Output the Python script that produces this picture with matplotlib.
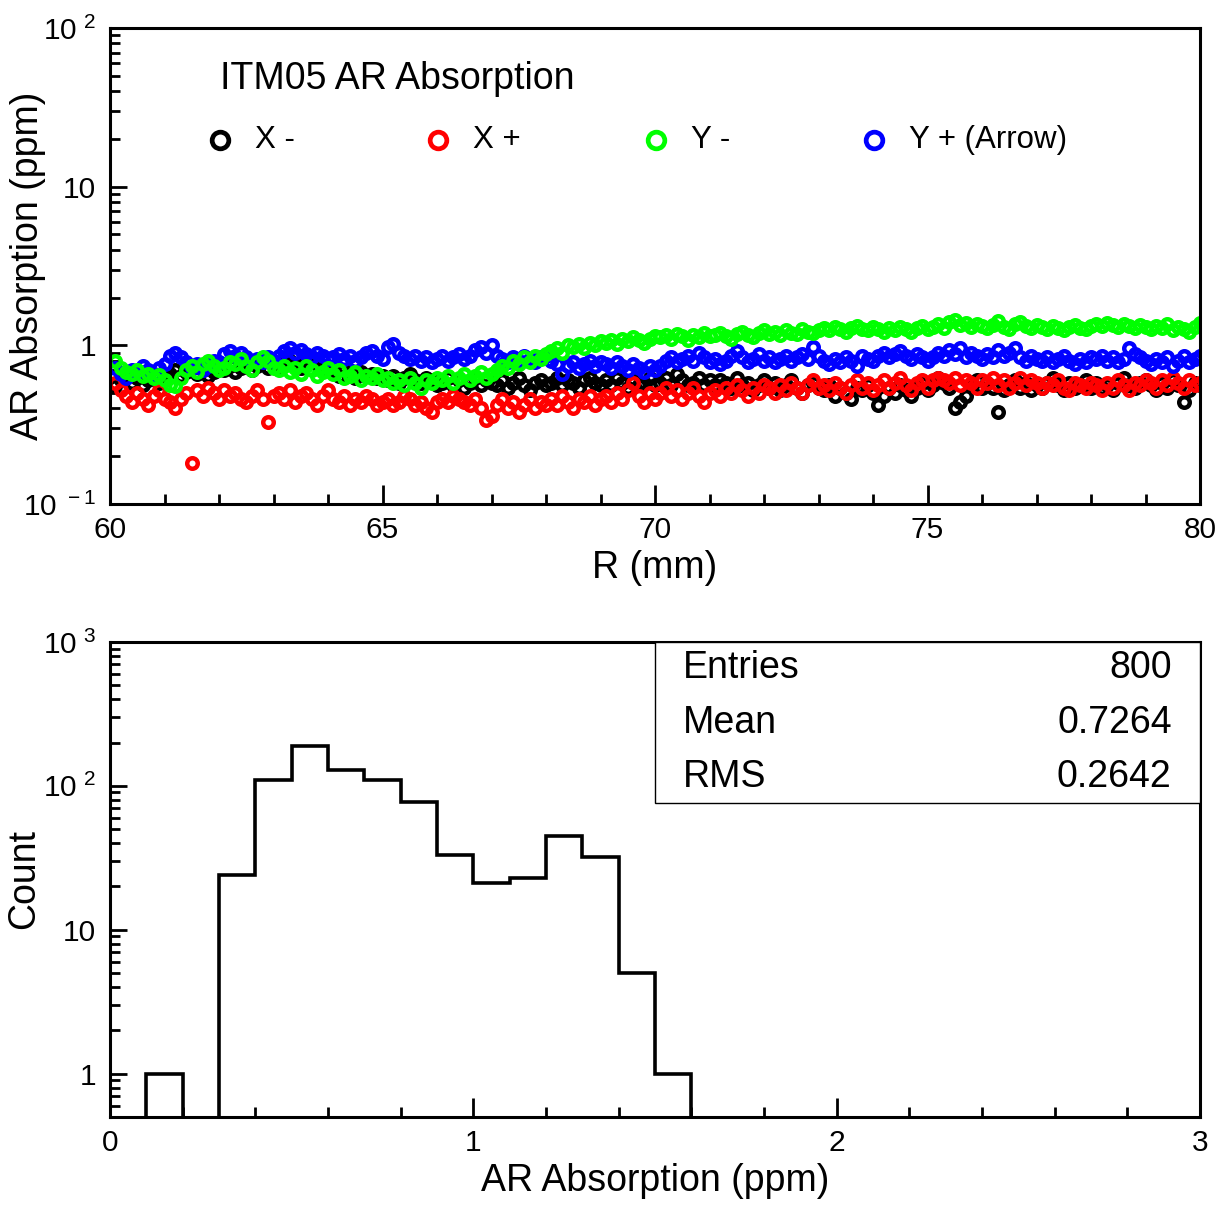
import numpy as np
import matplotlib
matplotlib.use("Agg")
import matplotlib.pyplot as plt
import matplotlib.ticker as mticker
from matplotlib.lines import Line2D
from matplotlib.patches import Rectangle

plt.rcParams.update({
    "font.family": ["Liberation Sans", "DejaVu Sans"],
    "mathtext.fontset": "custom",
    "mathtext.rm": "Liberation Sans",
    "axes.linewidth": 2.2,
    "xtick.direction": "in",
    "ytick.direction": "in",
})

# ── Data ────────────────────────────────────────────────────────────────
# radial positions (mm), one measurement every 0.1 mm
r_mm = np.round(np.arange(60.1, 80.05, 0.1), 1)

x_minus = [
    0.55, 0.60, 0.64, 0.58, 0.62, 0.56, 0.60, 0.64, 0.58, 0.62,
    0.66, 0.70, 0.64, 0.68, 0.72, 0.66, 0.70, 0.64, 0.68, 0.72,
    0.70, 0.74, 0.68, 0.72, 0.76, 0.70, 0.74, 0.78, 0.72, 0.76,
    0.74, 0.78, 0.80, 0.76, 0.72, 0.78, 0.82, 0.76, 0.74, 0.70,
    0.68, 0.64, 0.70, 0.66, 0.62, 0.68, 0.64, 0.66, 0.62, 0.64,
    0.60, 0.64, 0.58, 0.62, 0.66, 0.60, 0.58, 0.62, 0.60, 0.56,
    0.58, 0.62, 0.56, 0.60, 0.54, 0.58, 0.62, 0.56, 0.60, 0.58,
    0.56, 0.60, 0.54, 0.58, 0.62, 0.56, 0.52, 0.58, 0.60, 0.56,
    0.58, 0.62, 0.56, 0.60, 0.58, 0.54, 0.60, 0.62, 0.58, 0.56,
    0.60, 0.56, 0.62, 0.58, 0.54, 0.60, 0.56, 0.58, 0.62, 0.56,
    0.58, 0.62, 0.56, 0.66, 0.60, 0.56, 0.58, 0.62, 0.56, 0.60,
    0.56, 0.60, 0.58, 0.54, 0.62, 0.56, 0.58, 0.52, 0.56, 0.60,
    0.54, 0.58, 0.52, 0.56, 0.60, 0.54, 0.50, 0.56, 0.58, 0.54,
    0.52, 0.56, 0.48, 0.54, 0.50, 0.46, 0.54, 0.52, 0.56, 0.50,
    0.42, 0.48, 0.54, 0.50, 0.56, 0.52, 0.48, 0.54, 0.58, 0.52,
    0.56, 0.62, 0.58, 0.54, 0.40, 0.44, 0.48, 0.56, 0.60, 0.54,
    0.58, 0.54, 0.38, 0.52, 0.56, 0.60, 0.54, 0.58, 0.52, 0.56,
    0.54, 0.58, 0.62, 0.56, 0.52, 0.58, 0.54, 0.56, 0.60, 0.54,
    0.58, 0.54, 0.56, 0.52, 0.58, 0.62, 0.56, 0.54, 0.58, 0.60,
    0.56, 0.52, 0.58, 0.54, 0.60, 0.56, 0.44, 0.52, 0.58, 0.56,
]

x_plus = [
    0.58, 0.52, 0.48, 0.44, 0.50, 0.46, 0.42, 0.48, 0.52, 0.46,
    0.44, 0.40, 0.46, 0.50, 0.18, 0.52, 0.48, 0.54, 0.50, 0.46,
    0.52, 0.48, 0.50, 0.46, 0.44, 0.48, 0.52, 0.46, 0.33, 0.48,
    0.50, 0.46, 0.52, 0.44, 0.48, 0.50, 0.46, 0.42, 0.48, 0.52,
    0.46, 0.44, 0.48, 0.42, 0.46, 0.44, 0.48, 0.46, 0.42, 0.44,
    0.46, 0.42, 0.44, 0.48, 0.46, 0.42, 0.44, 0.40, 0.38, 0.44,
    0.46, 0.44, 0.48, 0.46, 0.44, 0.42, 0.46, 0.40, 0.34, 0.36,
    0.42, 0.46, 0.40, 0.44, 0.38, 0.42, 0.46, 0.40, 0.44, 0.42,
    0.46, 0.42, 0.48, 0.44, 0.40, 0.46, 0.44, 0.48, 0.42, 0.46,
    0.48, 0.44, 0.50, 0.46, 0.52, 0.58, 0.48, 0.44, 0.50, 0.46,
    0.50, 0.54, 0.48, 0.52, 0.46, 0.50, 0.54, 0.48, 0.44, 0.50,
    0.52, 0.48, 0.54, 0.50, 0.56, 0.52, 0.48, 0.54, 0.50, 0.56,
    0.54, 0.50, 0.56, 0.52, 0.58, 0.54, 0.50, 0.56, 0.60, 0.54,
    0.56, 0.52, 0.58, 0.54, 0.50, 0.56, 0.60, 0.54, 0.58, 0.52,
    0.56, 0.60, 0.54, 0.58, 0.62, 0.56, 0.52, 0.58, 0.60, 0.54,
    0.60, 0.62, 0.60, 0.58, 0.62, 0.56, 0.60, 0.58, 0.54, 0.60,
    0.58, 0.62, 0.56, 0.60, 0.54, 0.58, 0.62, 0.56, 0.60, 0.58,
    0.54, 0.58, 0.56, 0.60, 0.54, 0.52, 0.58, 0.56, 0.54, 0.58,
    0.56, 0.52, 0.58, 0.54, 0.60, 0.56, 0.52, 0.58, 0.56, 0.60,
    0.58, 0.54, 0.60, 0.56, 0.62, 0.58, 0.54, 0.60, 0.56, 0.58,
]

y_minus = [
    0.80, 0.72, 0.68, 0.66, 0.70, 0.64, 0.66, 0.62, 0.65, 0.60,
    0.56, 0.55, 0.62, 0.70, 0.74, 0.68, 0.76, 0.80, 0.74, 0.70,
    0.72, 0.78, 0.76, 0.82, 0.74, 0.70, 0.78, 0.84, 0.80, 0.72,
    0.70, 0.74, 0.68, 0.72, 0.66, 0.74, 0.70, 0.64, 0.68, 0.72,
    0.66, 0.70, 0.62, 0.64, 0.68, 0.60, 0.64, 0.62, 0.66, 0.60,
    0.62, 0.58, 0.60, 0.56, 0.62, 0.58, 0.54, 0.60, 0.58, 0.62,
    0.60, 0.64, 0.58, 0.62, 0.66, 0.60, 0.64, 0.68, 0.62, 0.66,
    0.70, 0.74, 0.72, 0.80, 0.76, 0.84, 0.78, 0.86, 0.82, 0.88,
    0.92, 0.96, 0.90, 1.00, 0.98, 1.02, 0.96, 1.04, 1.00, 1.06,
    1.04, 1.08, 1.02, 1.10, 1.06, 1.12, 1.08, 1.04, 1.10, 1.14,
    1.12, 1.16, 1.10, 1.18, 1.14, 1.08, 1.16, 1.12, 1.20, 1.14,
    1.16, 1.20, 1.14, 1.10, 1.18, 1.22, 1.16, 1.12, 1.20, 1.24,
    1.18, 1.22, 1.16, 1.24, 1.20, 1.18, 1.26, 1.22, 1.20, 1.24,
    1.28, 1.24, 1.30, 1.26, 1.22, 1.28, 1.32, 1.26, 1.24, 1.30,
    1.26, 1.22, 1.28, 1.24, 1.30, 1.26, 1.22, 1.28, 1.32, 1.26,
    1.30, 1.36, 1.28, 1.40, 1.44, 1.34, 1.38, 1.30, 1.36, 1.32,
    1.28, 1.34, 1.42, 1.30, 1.26, 1.36, 1.40, 1.32, 1.28, 1.34,
    1.30, 1.26, 1.32, 1.28, 1.24, 1.30, 1.34, 1.28, 1.26, 1.32,
    1.36, 1.32, 1.38, 1.34, 1.30, 1.36, 1.32, 1.28, 1.34, 1.30,
    1.26, 1.32, 1.28, 1.36, 1.24, 1.30, 1.26, 1.22, 1.30, 1.38,
]

y_plus = [
    0.72, 0.66, 0.62, 0.70, 0.68, 0.74, 0.70, 0.66, 0.72, 0.76,
    0.86, 0.90, 0.84, 0.78, 0.72, 0.76, 0.70, 0.74, 0.80, 0.78,
    0.88, 0.92, 0.86, 0.90, 0.84, 0.80, 0.82, 0.78, 0.84, 0.80,
    0.86, 0.92, 0.96, 0.90, 0.94, 0.88, 0.84, 0.90, 0.86, 0.82,
    0.84, 0.88, 0.82, 0.86, 0.80, 0.84, 0.90, 0.92, 0.86, 0.82,
    0.98, 1.02, 0.90, 0.86, 0.82, 0.86, 0.80, 0.84, 0.78, 0.82,
    0.86, 0.80, 0.84, 0.88, 0.82, 0.86, 0.94, 0.98, 0.90, 1.00,
    0.86, 0.82, 0.78, 0.84, 0.80, 0.86, 0.82, 0.78, 0.84, 0.86,
    0.80, 0.76, 0.66, 0.74, 0.78, 0.72, 0.76, 0.80, 0.74, 0.78,
    0.76, 0.72, 0.78, 0.74, 0.70, 0.76, 0.72, 0.68, 0.74, 0.70,
    0.74, 0.80, 0.84, 0.78, 0.82, 0.86, 0.80, 0.90, 0.84, 0.78,
    0.82, 0.76, 0.80, 0.86, 0.92, 0.84, 0.78, 0.82, 0.88, 0.80,
    0.84, 0.78, 0.82, 0.86, 0.80, 0.84, 0.88, 0.82, 0.98, 0.86,
    0.80, 0.76, 0.82, 0.78, 0.84, 0.80, 0.74, 0.86, 0.82, 0.80,
    0.86, 0.90, 0.84, 0.88, 0.92, 0.86, 0.82, 0.88, 0.84, 0.80,
    0.84, 0.90, 0.86, 0.94, 0.88, 0.96, 0.84, 0.90, 0.86, 0.82,
    0.88, 0.84, 0.94, 0.86, 0.90, 0.96, 0.84, 0.80, 0.86, 0.82,
    0.80, 0.84, 0.78, 0.82, 0.86, 0.80, 0.76, 0.82, 0.78, 0.84,
    0.82, 0.86, 0.80, 0.84, 0.78, 0.82, 0.96, 0.88, 0.84, 0.80,
    0.76, 0.82, 0.78, 0.84, 0.74, 0.80, 0.86, 0.78, 0.82, 0.86,
]

series_labels = ["X -", "X +", "Y -", "Y + (Arrow)"]
series_colors = ["#000000", "#ff0000", "#00ff00", "#0000ff"]
series_values = [x_minus, x_plus, y_minus, y_plus]
draw_order = [0, 1, 3, 2]

# histogram of all 800 entries, bins of 0.1 ppm from 0 to 1.6
hist_edges = np.round(np.arange(0.0, 1.65, 0.1), 1)
hist_counts = [0, 1, 0, 24, 110, 190, 128, 110, 77, 33, 21, 23, 45, 32, 5, 1]
stats_names = ["Entries", "Mean", "RMS"]
stats_values = ["800", "0.7264", "0.2642"]

# ── Figure ──────────────────────────────────────────────────────────────
fig = plt.figure(figsize=(12.28, 12.10), dpi=100)
ax1 = fig.add_axes([0.0896, 0.5835, 0.8876, 0.3934])
ax2 = fig.add_axes([0.0896, 0.0769, 0.8876, 0.3925])

TICK_FS = 21.5
LABEL_FS = 27


def log_label(v, _):
    e = int(round(np.log10(v)))
    if e in (0, 1):
        return f"{int(round(v))}"
    return r"$\mathregular{10^{\ %d}}$" % e


for ax in (ax1, ax2):
    ax.set_yscale("log")
    ax.yaxis.set_major_formatter(mticker.FuncFormatter(log_label))
    ax.yaxis.set_minor_formatter(mticker.NullFormatter())
    ax.yaxis.set_minor_locator(mticker.LogLocator(base=10, subs=np.arange(2, 10)))
    ax.tick_params(axis="both", which="major", length=14, width=2.0,
                   labelsize=TICK_FS, top=False, right=False)
    ax.tick_params(axis="y", which="major", length=12, pad=10)
    ax.tick_params(axis="both", which="minor", length=7, width=2.0,
                   top=False, right=False)
    ax.tick_params(axis="x", which="major", pad=9)

# top: scatter of absorption vs radius
for i in draw_order:
    ax1.plot(r_mm, series_values[i], linestyle="none", marker="o",
             markersize=7.6, markerfacecolor="none",
             markeredgecolor=series_colors[i], markeredgewidth=3.2)

ax1.set_xlim(60, 80)
ax1.set_ylim(0.1, 100)
ax1.xaxis.set_major_locator(mticker.MultipleLocator(5))
ax1.xaxis.set_minor_locator(mticker.MultipleLocator(1))
ax1.set_xlabel("R (mm)", fontsize=LABEL_FS, labelpad=4)
ax1.set_ylabel("AR Absorption (ppm)", fontsize=LABEL_FS)
ax1.yaxis.set_label_coords(-0.059, 0.5)

ax1.text(0.101, 0.893, "ITM05 AR Absorption", transform=ax1.transAxes,
         fontsize=27, ha="left", va="center")
legend_x = [0.101, 0.301, 0.501, 0.701]
for lx, lab, col in zip(legend_x, series_labels, series_colors):
    ax1.add_line(Line2D([lx], [0.765], transform=ax1.transAxes,
                        linestyle="none", marker="o", markersize=12,
                        markerfacecolor="none", markeredgecolor=col,
                        markeredgewidth=3.4))
    ax1.text(lx + 0.032, 0.765, lab, transform=ax1.transAxes,
             fontsize=22.5, ha="left", va="center")

# bottom: histogram
draw_counts = np.where(np.array(hist_counts) > 0, hist_counts, 1e-3)
ax2.stairs(draw_counts, hist_edges, baseline=1e-3, fill=False,
           color="black", linewidth=2.6)
ax2.set_xlim(0, 3)
ax2.set_ylim(0.5, 1000)
ax2.xaxis.set_major_locator(mticker.MultipleLocator(1))
ax2.xaxis.set_minor_locator(mticker.MultipleLocator(0.2))
ax2.set_xlabel("AR Absorption (ppm)", fontsize=LABEL_FS, labelpad=4)
ax2.set_ylabel("Count", fontsize=LABEL_FS)
ax2.yaxis.set_label_coords(-0.062, 0.5)

ax2.add_patch(Rectangle((0.5, 0.661), 0.5, 0.339, transform=ax2.transAxes,
                        facecolor="white", edgecolor="black", linewidth=1.0,
                        zorder=5))
for k, (name, val) in enumerate(zip(stats_names, stats_values)):
    yy = 0.945 - k * 0.1145
    ax2.text(0.526, yy, name, transform=ax2.transAxes, fontsize=27,
             ha="left", va="center", zorder=6)
    ax2.text(0.974, yy, val, transform=ax2.transAxes, fontsize=27,
             ha="right", va="center", zorder=6)

fig.savefig("out.png", dpi=100, facecolor="white")
